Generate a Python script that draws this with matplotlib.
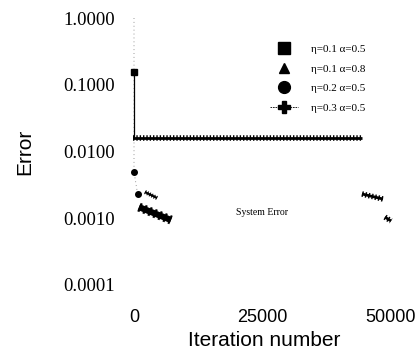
import numpy as np
import matplotlib
matplotlib.use('Agg')
import matplotlib.pyplot as plt
from matplotlib.lines import Line2D

# iteration number / error for the four learning settings
# square: eta=0.1 alpha=0.5
square_first_x = [0]
square_first_y = [0.153]
square_run_x = [970, 7200]
square_run_y = [0.00147, 0.00094]

# triangle: eta=0.1 alpha=0.8
triangle_run_x = [2140, 4475]
triangle_run_y = [0.00247, 0.00201]

# circle: eta=0.2 alpha=0.5
circle_x = [0, 0, 700]
circle_y = [1.0, 0.005, 0.0023]

# plus: eta=0.3 alpha=0.5
plus_drop_x = [0, 0]
plus_drop_y = [0.153, 0.0157]
plus_flat_x = [-200, 44360]
plus_flat_y = [0.0157, 0.0157]
plus_run1_x = [44360, 48440]
plus_run1_y = [0.00231, 0.00194]
plus_run2_x = [48830, 50000]
plus_run2_y = [0.00104, 0.00091]

legend_labels = ['η=0.1 α=0.5', 'η=0.1 α=0.8', 'η=0.2 α=0.5', 'η=0.3 α=0.5']
y_ticks = [1.0, 0.1, 0.01, 0.001, 0.0001]
y_tick_labels = ['1.0000', '0.1000', '0.0100', '0.0010', '0.0001']
x_ticks = [0, 25000, 50000]
x_tick_labels = ['0', '25000', '50000']

SERIF = ['Liberation Serif', 'DejaVu Serif']
SANS = ['Liberation Sans', 'DejaVu Sans']


def dense_run(ax, x, y, lw, tex):
    # many overlapping markers -> a thick line with a ticked texture
    ax.plot(x, y, color='k', lw=lw, solid_capstyle='butt')
    ax.plot(x, y, color='k', lw=tex, ls=(0, (0.25, 0.35)), dash_capstyle='butt')


fig = plt.figure(figsize=(4.2, 3.56), dpi=100)
ax = fig.add_axes([120 / 420, 1 - 295 / 356, 290 / 420, 290 / 356])

ax.set_yscale('log')
ax.set_xlim(-2724, 53696)
ax.set_ylim(7.08e-5, 1.566)

for s in ax.spines.values():
    s.set_visible(False)

# circle series, faint dotted trace
ax.plot(circle_x, circle_y, color='0.6', lw=0.7, ls=(0, (1, 3)))
ax.plot(circle_x[1:], circle_y[1:], 'o', color='k', ms=4, ls='none')

# plus series
ax.plot(plus_drop_x, plus_drop_y, color='k', lw=0.9)
dense_run(ax, plus_flat_x, plus_flat_y, 2.0, 4.0)
dense_run(ax, plus_run1_x, plus_run1_y, 2.0, 4.0)
dense_run(ax, plus_run2_x, plus_run2_y, 2.0, 4.0)

# square series
ax.plot(square_first_x, square_first_y, 's', color='k', ms=4)
dense_run(ax, square_run_x, square_run_y, 4.5, 6.5)

# triangle series
dense_run(ax, triangle_run_x, triangle_run_y, 1.5, 3.0)

ax.text(24900, 0.0012, 'System Error', fontsize=7, family=SERIF,
        ha='center', va='center')

ax.set_yticks(y_ticks)
ax.set_yticklabels(y_tick_labels, family=SERIF, fontsize=13.5)
ax.minorticks_off()
ax.set_xticks(x_ticks)
ax.set_xticklabels(x_tick_labels, family=SANS, fontsize=13)
ax.tick_params(axis='y', length=0, pad=3.6)
ax.tick_params(axis='x', length=0, pad=10)

fig.text(25 / 420, 1 - 152 / 356, 'Error', rotation=90, family=SANS,
         fontsize=15, ha='center', va='center')
fig.text(264 / 420, 1 - 341 / 356, 'Iteration number', family=SANS,
         fontsize=15, ha='center', va='center')

handles = [
    Line2D([], [], marker='s', color='k', ls='none', ms=8.5),
    Line2D([], [], marker='^', color='k', ls='none', ms=6.5),
    Line2D([], [], marker='o', color='k', ls='none', ms=8.5),
    Line2D([], [], marker='P', color='k', ls=(0, (2, 1)), lw=0.6, ms=9),
]
ax.legend(handles, legend_labels, loc='upper left',
          bbox_to_anchor=(270 / 420, 1 - 44 / 356),
          bbox_transform=fig.transFigure, frameon=False,
          prop={'family': SERIF, 'size': 8}, handlelength=2.5,
          handletextpad=1.2, labelspacing=0.9, borderpad=0,
          borderaxespad=0)

fig.savefig('out.png', dpi=100, facecolor='white')
